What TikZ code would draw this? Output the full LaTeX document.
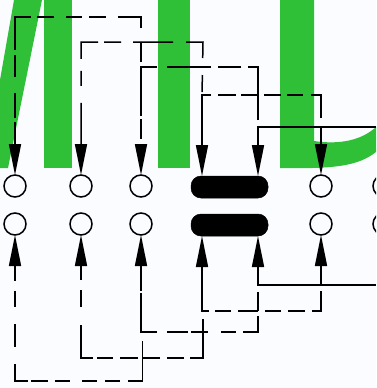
\documentclass[tikz,border=0pt]{standalone}
\usetikzlibrary{arrows.meta}
\definecolor{pagebg}{HTML}{FAFCFF}
\definecolor{lettergreen}{HTML}{2FC038}
\tikzset{
  x=1pt,y=-1pt,
  port/.style={circle,draw=black,line width=1.5pt,fill=pagebg,minimum size=22pt,inner sep=0pt,outer sep=0pt},
  barnode/.style={rounded corners=10pt,fill=black,draw=black,line width=0.5pt,minimum width=77pt,minimum height=22pt,inner sep=0pt,outer sep=0pt},
  wire/.style={line width=1.5pt,black,line join=miter,-{Triangle[length=31pt,width=12pt,sep=0pt]}},
}
\begin{document}
\begin{tikzpicture}
\useasboundingbox (0,0) rectangle (376,388);
\clip (0,0) rectangle (376,388);
\fill[pagebg] (0,0) rectangle (376,388);
% letters
\fill[lettergreen] (14,0) -- (42,0) -- (8,168) -- (0,168) -- (0,80) -- cycle;
\fill[lettergreen] (43.5,0) rectangle (72,168);
\fill[lettergreen] (158,0) rectangle (190,168);
\fill[lettergreen] (280,0) -- (314,0) -- (314,141) .. controls (340,145) and (362,140) .. (376,127)
  -- (376,152) .. controls (358,166) and (335,169) .. (280,168) -- cycle;
% ports
\node[port] (t1) at (15,186) {};
\node[port] (t2) at (81,186) {};
\node[port] (t3) at (141,186) {};
\node[port] (t4) at (321,186) {};
\node[port] (t5) at (384,186) {};
\node[port] (b1) at (15,224) {};
\node[port] (b2) at (81,224) {};
\node[port] (b3) at (141,224) {};
\node[port] (b4) at (321,224) {};
\node[port] (b5) at (384,224) {};
\node[barnode] (tbar) at (229.5,187) {};
\node[barnode] (bbar) at (229.5,225) {};
% free ends
\coordinate (ta) at (141,67);
\coordinate (tb) at (202,95);
\coordinate (tc) at (258,127);
\coordinate (td) at (321,127);
\coordinate (te) at (376,127);
\coordinate (ba) at (142.5,332);
\coordinate (bb) at (203,311);
\coordinate (bc) at (258,285);
\coordinate (bd) at (321,285);
\coordinate (be) at (376,285);
% top connectors
\draw[wire,dash pattern=on 0pt off 5pt on 19pt off 15pt on 34pt off 12pt on 17pt off 7pt on 16pt off 12pt on 17pt off 6pt on 49pt off 5pt on 22pt off 16pt on 25pt off 4pt on 60pt]
  (ta) -- (141,17) -- (15,17) -- (t1.north);
\draw[wire,dash pattern=on 0pt off 3pt on 17pt off 17pt on 33pt off 13pt on 40pt off 12pt on 17pt off 6pt on 34pt off 12pt on 15pt off 17pt on 100pt]
  (tb) -- (203,42) -- (81,42) -- (t2.north);
\draw[wire,dash pattern=on 0pt off 7pt on 63pt off 7pt on 23pt off 7pt on 44pt off 10pt on 65pt off 3pt on 20pt off 5pt on 60pt]
  (tc) -- (258,67) -- (141,67) -- (t3.north);
\draw[wire,dash pattern=on 0pt off 9pt on 33pt off 8pt on 16pt off 6pt on 17pt off 6pt on 17pt off 5pt on 18pt off 7pt on 110pt]
  (td) -- (321,95) -- (202,95) -- (tbar.north -| tb);
\draw[wire] (te) -- (tc) -- (tbar.north -| tc);
\draw[wire] (td) -- (t4.north);
% bottom connectors
\draw[wire,dash pattern=on 0pt off 9pt on 55pt off 8pt on 15pt off 8pt on 15pt off 12pt on 15pt off 7pt on 17pt off 3pt on 30pt off 17pt on 23pt off 17pt on 16pt off 10pt on 60pt]
  (ba) -- (142.5,381) -- (15,381) -- (b1.south);
\draw[wire,dash pattern=on 0pt off 8pt on 52pt off 6pt on 17pt off 7pt on 18pt off 4pt on 18pt off 7pt on 16pt off 4pt on 45pt off 18pt on 17pt off 10pt on 60pt]
  (bb) -- (203,358) -- (81,358) -- (b2.south);
\draw[wire,dash pattern=on 0pt off 7pt on 19pt off 5pt on 31pt off 7pt on 15pt off 13pt on 17pt off 3pt on 21pt off 10pt on 55pt off 2pt on 60pt]
  (bc) -- (258,332) -- (141,332) -- (b3.south);
\draw[wire,dash pattern=on 0pt off 6pt on 29pt off 7pt on 17pt off 7pt on 16pt off 7pt on 20pt off 7pt on 16pt off 6pt on 110pt]
  (bd) -- (321,311) -- (202,311) -- (bbar.south -| tb);
\draw[wire] (be) -- (bc) -- (bbar.south -| tc);
\draw[wire] (bd) -- (b4.south);
\end{tikzpicture}
\end{document}
